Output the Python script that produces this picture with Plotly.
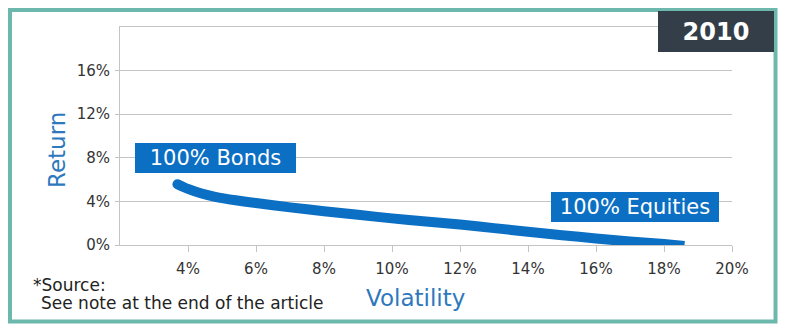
import plotly.graph_objects as go

# Efficient frontier, 2010 (volatility %, return %)
volatility = [3.69, 4.0, 4.4, 4.8, 5.4, 6.0, 7.0, 8.0, 9.0, 10.0, 11.0, 12.0, 13.0, 14.0, 15.0, 16.0, 17.0, 18.0, 18.6]
returns = [5.58, 5.14, 4.72, 4.42, 4.1, 3.85, 3.45, 3.1, 2.77, 2.44, 2.16, 1.88, 1.55, 1.22, 0.9, 0.6, 0.33, 0.1, -0.08]

x_ticks = [4, 6, 8, 10, 12, 14, 16, 18, 20]
x_ticklabels = ["4%", "6%", "8%", "10%", "12%", "14%", "16%", "18%", "20%"]
y_ticks = [0, 4, 8, 12, 16]
y_ticklabels = ["0%", "4%", "8%", "12%", "16%"]

label_bonds = "100% Bonds"
label_equities = "100% Equities"
year_label = "2010"

BLUE = "#0b6fc4"
TITLE_BLUE = "#2e78bd"
TEAL = "#6cb8ad"
DARK = "#333e48"
GRID = "#c4c4c4"
FONT = "DejaVu Sans"

W, H = 787, 331
L, R, T, B = 120, 55, 27, 86
PW, PH = W - L - R, H - T - B


def px(xp):
    return (xp - L) / PW


def py(yp):
    return (H - B - yp) / PH


fig = go.Figure()
fig.add_trace(go.Scatter(
    x=volatility, y=returns, mode="lines",
    line=dict(color=BLUE, width=10, shape="spline", smoothing=0.4),
    hoverinfo="skip", showlegend=False, cliponaxis=False,
))
fig.add_trace(go.Scatter(
    x=[volatility[0], volatility[-1]], y=[returns[0], returns[-1]], mode="markers",
    marker=dict(color=BLUE, size=10, line=dict(width=0)),
    hoverinfo="skip", showlegend=False, cliponaxis=False,
))

fig.update_layout(
    width=W, height=H,
    margin=dict(l=L, r=R, t=T, b=B),
    paper_bgcolor="white", plot_bgcolor="white",
    font=dict(family=FONT, color="#333333", size=15),
    xaxis=dict(
        range=[2, 20], tickvals=x_ticks, ticktext=x_ticklabels,
        showgrid=False, zeroline=False, showline=True, linecolor=GRID, linewidth=1,
        mirror=True,
        ticks="outside", ticklen=6, tickcolor=GRID, tickwidth=1,
        tickfont=dict(size=15, color="#333333"), ticklabelstandoff=4,
    ),
    yaxis=dict(
        range=[0, 20], tickvals=y_ticks, ticktext=y_ticklabels,
        showgrid=True, gridcolor=GRID, gridwidth=1, zeroline=False,
        showline=True, linecolor=GRID, linewidth=1,
        ticks="outside", ticklen=4, tickcolor=GRID, tickwidth=1,
        tickfont=dict(size=15, color="#333333"), ticklabelstandoff=2,
    ),
)

# outer teal frame
fig.add_shape(type="rect", xref="paper", yref="paper",
              x0=px(10), x1=px(775.5), y0=py(321.5), y1=py(10),
              line=dict(color=TEAL, width=4), fillcolor="rgba(0,0,0,0)", layer="above")

# axis titles
fig.add_annotation(xref="paper", yref="paper", x=px(57), y=py(150), text="Return",
                   textangle=-90, showarrow=False, font=dict(size=23, color=TITLE_BLUE),
                   xanchor="center", yanchor="middle")
fig.add_annotation(xref="paper", yref="paper", x=px(415), y=py(298), text="Volatility",
                   showarrow=False, font=dict(size=23, color=TITLE_BLUE),
                   xanchor="center", yanchor="middle")

# source note
fig.add_annotation(xref="paper", yref="paper", x=px(31), y=py(285),
                   text="*Source:",
                   showarrow=False, align="left", font=dict(size=17, color="#222222"),
                   xanchor="left", yanchor="middle")
fig.add_annotation(xref="paper", yref="paper", x=px(39), y=py(303),
                   text="See note at the end of the article",
                   showarrow=False, align="left", font=dict(size=17, color="#222222"),
                   xanchor="left", yanchor="middle")

# series labels
fig.add_annotation(x=4.82, y=8.0, xref="x", yref="y", text=label_bonds, showarrow=False,
                   bgcolor=BLUE, width=161, height=30, borderpad=0, borderwidth=0,
                   font=dict(size=21, color="white"), xanchor="center", yanchor="middle")
fig.add_annotation(x=17.16, y=3.5, xref="x", yref="y", text=label_equities, showarrow=False,
                   bgcolor=BLUE, width=168, height=30, borderpad=0, borderwidth=0,
                   font=dict(size=21, color="white"), xanchor="center", yanchor="middle")

# year badge
fig.add_annotation(xref="paper", yref="paper", x=px(716), y=py(31.5), text=year_label,
                   showarrow=False, bgcolor=DARK, width=116, height=41, borderpad=0, borderwidth=0,
                   font=dict(size=24, color="white", weight="bold"), xanchor="center", yanchor="middle")

fig.write_html("out.html")
